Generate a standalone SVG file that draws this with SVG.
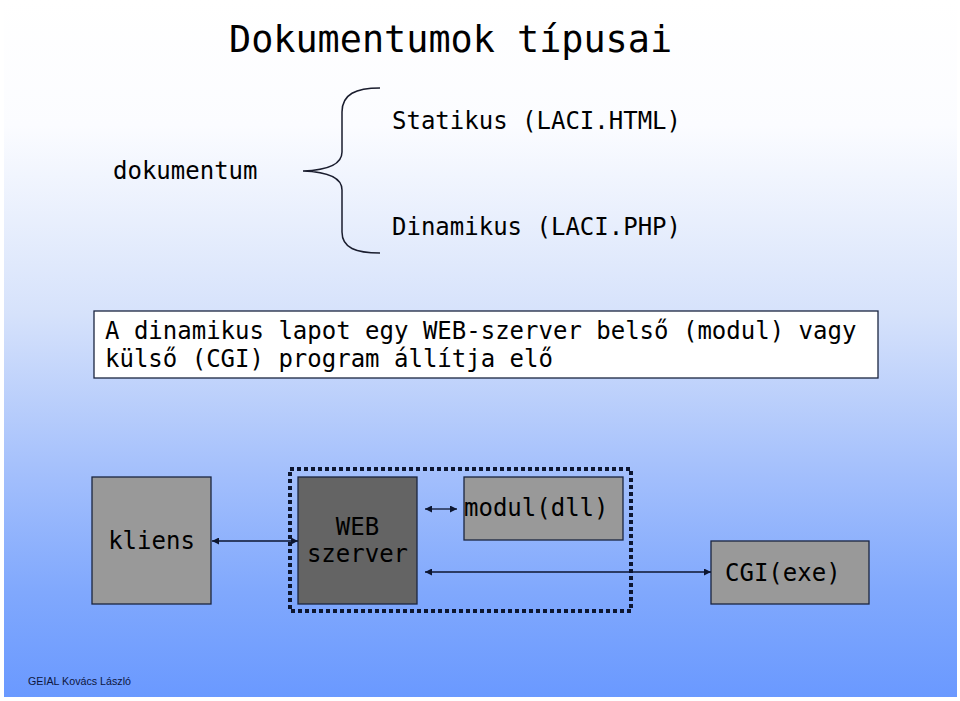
<svg xmlns="http://www.w3.org/2000/svg" width="960" height="701" viewBox="0 0 960 701">
<defs>
<linearGradient id="bg" x1="0" y1="0" x2="0" y2="1">
<stop offset="0" stop-color="#ffffff"/>
<stop offset="0.18" stop-color="#fbfcff"/>
<stop offset="0.45" stop-color="#d6e2fb"/>
<stop offset="0.68" stop-color="#a3bffc"/>
<stop offset="0.85" stop-color="#80a8fd"/>
<stop offset="1" stop-color="#6a99ff"/>
</linearGradient>
<marker id="ah" viewBox="0 0 10 10" refX="10" refY="5" markerWidth="9" markerHeight="7" markerUnits="userSpaceOnUse" orient="auto-start-reverse">
<path d="M0,0 L10,5 L0,10 Z" fill="#0d1630"/>
</marker>
<style>
.mono{font-family:"DejaVu Sans Mono","Liberation Mono",monospace;fill:#000}
.t24{font-size:24px}
.node{stroke:#1b2540;stroke-width:1.3}
.light{fill:#999999}
.dark{fill:#646464}
.conn{stroke:#0d1630;stroke-width:1.3;fill:none}
</style>
</defs>
<rect x="0" y="0" width="960" height="701" fill="#ffffff"/>
<rect x="4" y="0" width="953" height="697" fill="url(#bg)"/>
<g id="title"><text class="mono" x="229" y="52" font-size="36.8">Dokumentumok típusai</text></g>
<g id="dokumentum"><text class="mono t24" x="113" y="179">dokumentum</text></g>
<g id="brace"><path d="M380,88 C356,88 342,94 342,112 L342,152 C342,163 332,170 303,171 C332,172 342,179 342,190 L342,232 C342,248 356,253 380,253" fill="none" stroke="#1a1d2e" stroke-width="1.5"/></g>
<g id="statikus"><text class="mono t24" x="392" y="129">Statikus (LACI.HTML)</text></g>
<g id="dinamikus"><text class="mono t24" x="392" y="235">Dinamikus (LACI.PHP)</text></g>
<g id="note">
<rect x="94" y="311" width="784" height="67" fill="#ffffff" stroke="#1b2540" stroke-width="1.3"/>
<text class="mono t24" x="105" y="339">A dinamikus lapot egy WEB-szerver belső (modul) vagy</text>
<text class="mono t24" x="105" y="367">külső (CGI) program állítja elő</text>
</g>
<g id="server-frame"><rect x="290" y="469" width="341" height="142" fill="none" stroke="#0d1630" stroke-width="4" stroke-dasharray="4 3"/></g>
<g id="kliens">
<rect class="node light" x="92" y="477" width="119" height="127"/>
<text class="mono t24" x="151.5" y="549" text-anchor="middle">kliens</text>
</g>
<g id="web-szerver">
<rect class="node dark" x="298" y="477" width="119" height="127"/>
<text class="mono t24" x="357.5" y="535" text-anchor="middle">WEB</text>
<text class="mono t24" x="357.5" y="562" text-anchor="middle">szerver</text>
</g>
<g id="modul">
<rect class="node light" x="464" y="477" width="159" height="63"/>
<text class="mono t24" x="464" y="516">modul(dll)</text>
</g>
<g id="cgi">
<rect class="node light" x="711" y="541" width="158" height="63"/>
<text class="mono t24" x="725" y="581">CGI(exe)</text>
</g>
<g id="connectors">
<line class="conn" x1="212" y1="541" x2="298" y2="541" marker-start="url(#ah)" marker-end="url(#ah)"/>
<line class="conn" x1="425" y1="509" x2="457" y2="509" marker-start="url(#ah)" marker-end="url(#ah)"/>
<line class="conn" x1="425" y1="572" x2="711" y2="572" marker-start="url(#ah)" marker-end="url(#ah)"/>
</g>
<g id="footer"><text x="28" y="685" font-family="Liberation Sans, Arial, sans-serif" font-size="10.7" fill="#0d1640">GEIAL Kovács László</text></g>
</svg>
